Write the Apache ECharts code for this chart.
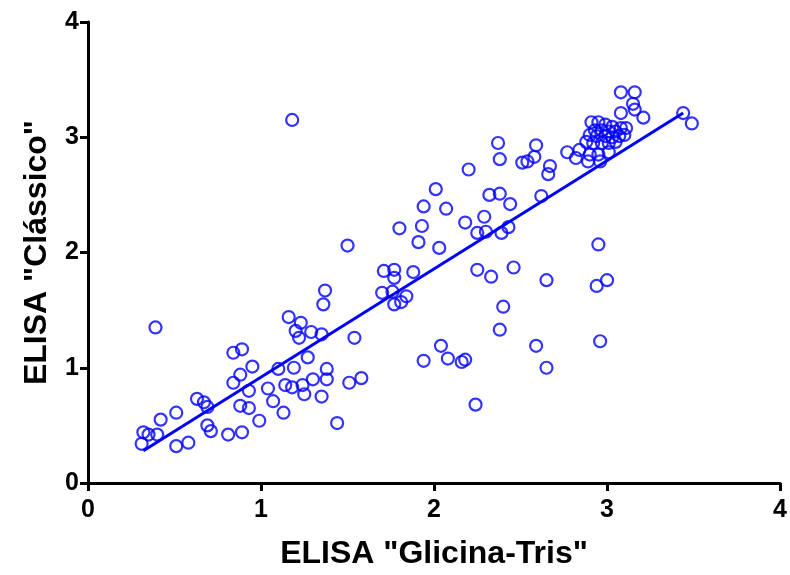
<!DOCTYPE html>
<html>
<head>
<meta charset="utf-8">
<script src="https://cdn.jsdelivr.net/npm/echarts@6/dist/echarts.min.js"></script>
<style>html,body{margin:0;padding:0;background:#fff}#c{width:790px;height:575px}</style>
</head>
<body>
<div id="c"></div>
<script>
// ELISA "Glicina-Tris" (x) vs ELISA "Clássico" (y)
const glicinaTris = [
  0.32,0.35,0.40,0.31,0.51,0.58,0.42,0.51,0.63,0.67,0.69,0.69,0.71,0.81,0.89,0.88,0.93,0.99,0.84,0.88,0.93,1.04,1.07,1.13,0.84,0.89,0.95,0.39,
  1.10,1.19,1.27,1.38,1.14,1.18,1.24,1.25,1.30,1.35,1.38,1.16,1.23,1.20,1.22,1.29,1.35,1.36,1.37,1.18,
  1.44,1.51,1.58,1.54,1.50,1.71,1.77,1.77,1.88,1.70,1.76,1.84,1.77,1.81,1.80,1.93,1.94,2.07,1.91,2.03,2.01,2.20,2.18,2.29,2.25,2.30,2.39,2.43,2.44,2.32,2.38,2.37,2.38,2.59,2.58,2.51,2.54,2.67,2.66,2.62,
  2.04,1.94,2.08,2.16,2.18,2.24,2.25,2.33,2.46,2.40,2.38,2.59,2.65,2.65,2.95,2.94,3.00,2.96,
  3.08,3.16,3.15,3.08,3.16,3.21,3.44,3.49,2.77,2.84,2.82,2.90,2.95,3.01,2.96,2.89,
  2.91,2.95,2.99,3.03,2.93,2.97,3.01,3.05,3.08,3.11,2.90,2.94,2.99,3.03,3.07,3.10,2.88,2.92,2.97,3.01,3.05
];
const classico = [
  0.44,0.42,0.42,0.34,0.32,0.35,0.55,0.61,0.73,0.70,0.66,0.50,0.45,0.42,0.44,0.67,0.65,0.54,0.87,0.94,0.80,0.82,0.71,0.61,1.13,1.16,1.01,1.35,
  0.99,1.00,1.09,0.99,0.85,0.83,0.85,0.77,0.90,0.75,0.90,1.44,1.39,1.32,1.26,1.31,1.29,1.55,1.67,3.15,
  0.52,0.87,0.91,1.26,2.06,1.84,1.85,1.78,1.83,1.65,1.66,1.62,1.55,1.57,2.21,2.23,2.40,2.38,2.09,2.04,2.55,2.72,2.26,2.31,2.17,2.18,2.17,2.22,2.42,2.50,2.51,2.95,2.81,2.93,2.83,2.78,2.79,2.75,2.68,2.49,
  1.19,1.06,1.08,1.05,1.07,0.68,1.85,1.79,1.87,1.53,1.33,1.19,1.00,1.76,2.07,1.71,1.76,1.23,
  3.39,3.39,3.29,3.21,3.24,3.17,3.21,3.12,2.87,2.89,2.82,2.85,2.85,2.87,2.79,2.79,
  3.13,3.13,3.11,3.09,3.06,3.06,3.05,3.05,3.08,3.08,3.02,3.01,3.01,3.00,3.01,3.02,2.96,2.95,2.95,2.95,2.96
];
const fitX = [0.32, 3.44];
const fitY = [0.28, 3.21];
const axisTicks = [0, 1, 2, 3, 4];

const points = glicinaTris.map((x, i) => [x, classico[i]]);
const fit = fitX.map((x, i) => [x, fitY[i]]);

const chart = echarts.init(document.getElementById('c'), null, {renderer: 'canvas'});
const axisCommon = {
  type: 'value', min: axisTicks[0], max: axisTicks[axisTicks.length - 1], interval: 1,
  nameLocation: 'middle',
  nameTextStyle: {fontFamily: 'Liberation Sans', fontWeight: 'bold', fontSize: 32, color: '#000'},
  axisLine: {show: true, onZero: false, lineStyle: {color: '#000', width: 3}},
  axisTick: {show: true, inside: false, length: 8, lineStyle: {color: '#000', width: 3}},
  axisLabel: {fontFamily: 'Liberation Sans', fontWeight: 'bold', fontSize: 25, color: '#000'},
  splitLine: {show: false}
};
chart.setOption({
  animation: false,
  backgroundColor: '#fff',
  grid: {left: 88, right: 8, top: 22, bottom: 91, containLabel: false},
  xAxis: Object.assign({}, axisCommon, {name: 'ELISA "Glicina-Tris"', nameGap: 55,
    axisLabel: Object.assign({}, axisCommon.axisLabel, {margin: 15})}),
  yAxis: Object.assign({}, axisCommon, {name: 'ELISA "Clássico"', nameGap: 35,
    axisLabel: Object.assign({}, axisCommon.axisLabel, {margin: 9})}),
  series: [
    {type: 'scatter', data: points, symbol: 'circle', symbolSize: 12,
     itemStyle: {color: 'rgba(0,0,0,0)', borderColor: '#0000FF', borderWidth: 2.2}, z: 3},
    {type: 'line', data: fit, symbol: 'none', lineStyle: {color: '#0000FF', width: 3}, z: 2}
  ]
});
</script>
</body>
</html>
